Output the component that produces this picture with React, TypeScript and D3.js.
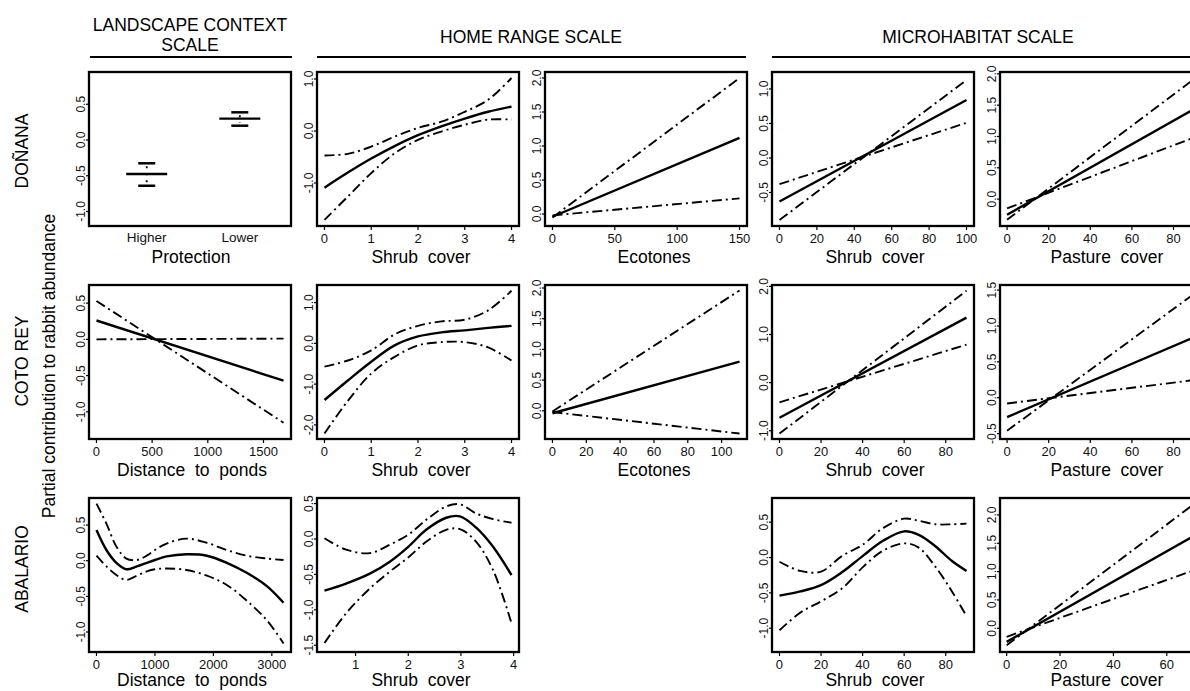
import React from 'react';
import * as d3 from 'd3';

// ---------------- DATA ----------------
// Landscape context scale — Doñana, protection (categorical)
const protectionCats = ['Higher', 'Lower'];
const protectionFit = [-0.476, 0.3];
const protectionUpper = [-0.326, 0.387];
const protectionLower = [-0.64, 0.2];

// Doñana — home range shrub cover
const donHrShrubX = [0, 0.5, 1, 1.5, 2, 2.5, 3, 3.5, 4];
const donHrShrubFit = [-1.09, -0.8, -0.53, -0.29, -0.08, 0.09, 0.24, 0.37, 0.47];
const donHrShrubUp = [-0.47, -0.44, -0.3, -0.11, 0.06, 0.18, 0.37, 0.6, 1.02];
const donHrShrubLo = [-1.71, -1.26, -0.81, -0.43, -0.17, -0.01, 0.12, 0.22, 0.22];

// Doñana — ecotones
const donEcoX = [0, 150];
const donEcoFit = [-0.04, 1.12];
const donEcoUp = [-0.05, 2.0];
const donEcoLo = [-0.02, 0.23];

// Doñana — microhabitat shrub cover
const donMhShrubX = [0, 100];
const donMhShrubFit = [-0.63, 0.84];
const donMhShrubUp = [-0.9, 1.13];
const donMhShrubLo = [-0.38, 0.51];

// Doñana — pasture cover
const donPastX = [0, 90];
const donPastFit = [-0.25, 1.44];
const donPastUp = [-0.33, 1.92];
const donPastLo = [-0.15, 0.985];

// Coto Rey — distance to ponds
const cotoPondX = [0, 1680];
const cotoPondFit = [0.26, -0.57];
const cotoPondUp = [0.53, -1.15];
const cotoPondLo = [0.0, 0.01];

// Coto Rey — home range shrub cover
const cotoHrShrubX = [0, 0.5, 1, 1.5, 2, 2.5, 3, 3.5, 4];
const cotoHrShrubFit = [-1.39, -0.91, -0.45, -0.05, 0.17, 0.27, 0.32, 0.38, 0.43];
const cotoHrShrubUp = [-0.57, -0.42, -0.17, 0.22, 0.43, 0.54, 0.58, 0.81, 1.29];
const cotoHrShrubLo = [-2.21, -1.41, -0.74, -0.33, -0.05, 0.03, 0.03, -0.1, -0.42];

// Coto Rey — ecotones
const cotoEcoX = [0, 110.6];
const cotoEcoFit = [-0.04, 0.8];
const cotoEcoUp = [-0.01, 1.96];
const cotoEcoLo = [-0.02, -0.37];

// Coto Rey — microhabitat shrub cover
const cotoMhShrubX = [0, 90];
const cotoMhShrubFit = [-0.73, 1.35];
const cotoMhShrubUp = [-1.06, 1.91];
const cotoMhShrubLo = [-0.41, 0.79];

// Coto Rey — pasture cover
const cotoPastX = [0, 90];
const cotoPastFit = [-0.27, 0.845];
const cotoPastUp = [-0.46, 1.45];
const cotoPastLo = [-0.08, 0.247];

// Abalario — distance to ponds
const abaPondX = [0, 170, 340, 510, 690, 860, 1000, 1200, 1540, 1890, 2230, 2570, 2920, 3200];
const abaPondFit = [0.43, 0.15, -0.03, -0.12, -0.08, -0.03, 0.01, 0.06, 0.09, 0.07, -0.03, -0.17, -0.36, -0.59];
const abaPondUp = [0.8, 0.52, 0.2, 0.03, 0.01, 0.07, 0.15, 0.24, 0.31, 0.25, 0.15, 0.07, 0.03, 0.01];
const abaPondLo = [0.07, -0.08, -0.2, -0.27, -0.21, -0.15, -0.12, -0.11, -0.13, -0.21, -0.34, -0.56, -0.84, -1.16];

// Abalario — home range shrub cover
const abaHrShrubX = [0.41, 0.82, 1.27, 1.65, 2.0, 2.34, 2.72, 2.98, 3.29, 3.61, 3.96];
const abaHrShrubFit = [-0.73, -0.63, -0.49, -0.32, -0.11, 0.13, 0.3, 0.32, 0.16, -0.11, -0.51];
const abaHrShrubUp = [0.01, -0.15, -0.2, -0.08, 0.06, 0.27, 0.46, 0.49, 0.36, 0.28, 0.23];
const abaHrShrubLo = [-1.47, -1.05, -0.7, -0.46, -0.26, -0.04, 0.13, 0.14, -0.04, -0.44, -1.19];

// Abalario — microhabitat shrub cover
const abaMhShrubX = [0, 10, 20, 30, 40, 50, 60, 67, 75, 83, 90];
const abaMhShrubFit = [-0.54, -0.48, -0.39, -0.21, 0.02, 0.24, 0.37, 0.32, 0.16, -0.05, -0.19];
const abaMhShrubUp = [-0.06, -0.19, -0.2, 0.02, 0.18, 0.42, 0.55, 0.52, 0.47, 0.47, 0.48];
const abaMhShrubLo = [-1.03, -0.78, -0.62, -0.44, -0.14, 0.1, 0.2, 0.14, -0.13, -0.48, -0.83];

// Abalario — pasture cover
const abaPastX = [0, 70];
const abaPastFit = [-0.24, 1.625];
const abaPastUp = [-0.3, 2.185];
const abaPastLo = [-0.15, 1.02];

// Labels
const scaleHeaders = ['LANDSCAPE CONTEXT', 'HOME RANGE SCALE', 'MICROHABITAT SCALE'];
const siteLabels = ['DOÑANA', 'COTO REY', 'ABALARIO'];
const yAxisLabel = 'Partial contribution to rabbit abundance';

// ---------------- LAYOUT ----------------
const COLS = [89, 317, 545, 772, 1000];
const ROWS = [72, 285, 498];
const PW = 202;
const PH = 154;
const TITLE_DX = [2, 3, 8, 2, 6];
const TITLE_DY = [37, 37, 34];
const FONT = '"Liberation Sans", Arial, Helvetica, sans-serif';
const DASHDOT = '10,4,2,4';

type Series = { x: number[]; y: number[]; fit: boolean };
type PanelDef = {
  row: number;
  col: number;
  xDomain: [number, number];
  yDomain: [number, number];
  xTicks: number[];
  yTicks: number[];
  title: string;
  smooth: boolean;
  series: Series[];
};

const tri = (x: number[], f: number[], u: number[], l: number[]): Series[] => [
  { x, y: u, fit: false },
  { x, y: l, fit: false },
  { x, y: f, fit: true },
];

const panels: PanelDef[] = [
  { row: 0, col: 1, xDomain: [-0.16, 4.16], yDomain: [-1.827, 1.135], xTicks: [0, 1, 2, 3, 4], yTicks: [-1, 0, 1], title: 'Shrub  cover', smooth: true, series: tri(donHrShrubX, donHrShrubFit, donHrShrubUp, donHrShrubLo) },
  { row: 0, col: 2, xDomain: [-6, 156], yDomain: [-0.176, 2.088], xTicks: [0, 50, 100, 150], yTicks: [0, 0.5, 1, 1.5, 2], title: 'Ecotones', smooth: false, series: tri(donEcoX, donEcoFit, donEcoUp, donEcoLo) },
  { row: 0, col: 3, xDomain: [-4, 104], yDomain: [-0.986, 1.246], xTicks: [0, 20, 40, 60, 80, 100], yTicks: [-0.5, 0, 0.5, 1], title: 'Shrub  cover', smooth: false, series: tri(donMhShrubX, donMhShrubFit, donMhShrubUp, donMhShrubLo) },
  { row: 0, col: 4, xDomain: [-3.4, 93.7], yDomain: [-0.43, 2.03], xTicks: [0, 20, 40, 60, 80], yTicks: [0, 0.5, 1, 1.5, 2], title: 'Pasture  cover', smooth: false, series: tri(donPastX, donPastFit, donPastUp, donPastLo) },

  { row: 1, col: 0, xDomain: [-67, 1747], yDomain: [-1.375, 0.75], xTicks: [0, 500, 1000, 1500], yTicks: [-1, -0.5, 0, 0.5], title: 'Distance  to  ponds', smooth: false, series: tri(cotoPondX, cotoPondFit, cotoPondUp, cotoPondLo) },
  { row: 1, col: 1, xDomain: [-0.16, 4.16], yDomain: [-2.346, 1.432], xTicks: [0, 1, 2, 3, 4], yTicks: [-2, -1, 0, 1], title: 'Shrub  cover', smooth: true, series: tri(cotoHrShrubX, cotoHrShrubFit, cotoHrShrubUp, cotoHrShrubLo) },
  { row: 1, col: 2, xDomain: [-4.4, 115], yDomain: [-0.459, 2.049], xTicks: [0, 20, 40, 60, 80, 100], yTicks: [0, 0.5, 1, 1.5, 2], title: 'Ecotones', smooth: false, series: tri(cotoEcoX, cotoEcoFit, cotoEcoUp, cotoEcoLo) },
  { row: 1, col: 3, xDomain: [-3.6, 93.6], yDomain: [-1.172, 2.029], xTicks: [0, 20, 40, 60, 80], yTicks: [-1, 0, 1, 2], title: 'Shrub  cover', smooth: false, series: tri(cotoMhShrubX, cotoMhShrubFit, cotoMhShrubUp, cotoMhShrubLo) },
  { row: 1, col: 4, xDomain: [-3.4, 93.7], yDomain: [-0.575, 1.571], xTicks: [0, 20, 40, 60, 80], yTicks: [-0.5, 0, 0.5, 1, 1.5], title: 'Pasture  cover', smooth: false, series: tri(cotoPastX, cotoPastFit, cotoPastUp, cotoPastLo) },

  { row: 2, col: 0, xDomain: [-128, 3328], yDomain: [-1.28, 0.879], xTicks: [0, 1000, 2000, 3000], yTicks: [-1, -0.5, 0, 0.5], title: 'Distance  to  ponds', smooth: true, series: tri(abaPondX, abaPondFit, abaPondUp, abaPondLo) },
  { row: 2, col: 1, xDomain: [0.268, 4.102], yDomain: [-1.596, 0.579], xTicks: [1, 2, 3, 4], yTicks: [-1.5, -1, -0.5, 0, 0.5], title: 'Shrub  cover', smooth: true, series: tri(abaHrShrubX, abaHrShrubFit, abaHrShrubUp, abaHrShrubLo) },
  { row: 2, col: 3, xDomain: [-3.6, 93.6], yDomain: [-1.337, 0.842], xTicks: [0, 20, 40, 60, 80], yTicks: [-1, -0.5, 0, 0.5], title: 'Shrub  cover', smooth: true, series: tri(abaMhShrubX, abaMhShrubFit, abaMhShrubUp, abaMhShrubLo) },
  { row: 2, col: 4, xDomain: [-2.5, 73.2], yDomain: [-0.418, 2.298], xTicks: [0, 20, 40, 60], yTicks: [0, 0.5, 1, 1.5, 2], title: 'Pasture  cover', smooth: false, series: tri(abaPastX, abaPastFit, abaPastUp, abaPastLo) },
];

const fmtY = (v: number) => v.toFixed(1);

function YAxis({ ys, x0, ticks }: { ys: d3.ScaleLinear<number, number>; x0: number; ticks: number[] }) {
  return (
    <g>
      {ticks.map((t) => (
        <g key={t}>
          <line x1={x0 - 3} x2={x0} y1={ys(t)} y2={ys(t)} stroke="#000" strokeWidth={1.2} />
          <text
            transform={`translate(${x0 - 4.5},${ys(t)}) rotate(-90)`}
            textAnchor="middle"
            fontSize={12}
            fill="#111"
          >
            {fmtY(t)}
          </text>
        </g>
      ))}
    </g>
  );
}

function Panel({ p }: { p: PanelDef }) {
  const x0 = COLS[p.col];
  const y0 = ROWS[p.row];
  const xs = d3.scaleLinear().domain(p.xDomain).range([x0, x0 + PW]);
  const ys = d3.scaleLinear().domain(p.yDomain).range([y0 + PH, y0]);
  const line = d3
    .line<[number, number]>()
    .x((d) => xs(d[0]))
    .y((d) => ys(d[1]))
    .curve(p.smooth ? d3.curveCatmullRom.alpha(0.5) : d3.curveLinear);
  const bottom = y0 + PH;
  return (
    <g>
      {p.series.map((s, i) => (
        <path
          key={i}
          d={line(s.x.map((xv, j) => [xv, s.y[j]] as [number, number])) || ''}
          fill="none"
          stroke="#000"
          strokeWidth={s.fit ? 2.4 : 1.9}
          strokeDasharray={s.fit ? undefined : DASHDOT}
        />
      ))}
      <rect x={x0} y={y0} width={PW} height={PH} fill="none" stroke="#000" strokeWidth={2.3} />
      {p.xTicks.map((t) => (
        <g key={t}>
          <line x1={xs(t)} x2={xs(t)} y1={bottom} y2={bottom + 4} stroke="#000" strokeWidth={1.2} />
          <text x={xs(t)} y={bottom + 17} textAnchor="middle" fontSize={13} fill="#111">
            {t}
          </text>
        </g>
      ))}
      <YAxis ys={ys} x0={x0} ticks={p.yTicks} />
      <text
        x={x0 + PW / 2 + TITLE_DX[p.col]}
        y={bottom + TITLE_DY[p.row]}
        textAnchor="middle"
        fontSize={17.5}
        style={{ whiteSpace: 'pre' }}
      >
        {p.title}
      </text>
    </g>
  );
}

function ProtectionPanel() {
  const x0 = COLS[0];
  const y0 = ROWS[0];
  const xs = d3.scaleLinear().domain([0.38, 2.55]).range([x0, x0 + PW]);
  const ys = d3.scaleLinear().domain([-1.203, 0.951]).range([y0 + PH, y0]);
  const bottom = y0 + PH;
  return (
    <g>
      {protectionCats.map((c, i) => {
        const cx = xs(i + 1);
        return (
          <g key={c}>
            <line x1={cx - 20.5} x2={cx + 20.5} y1={ys(protectionFit[i])} y2={ys(protectionFit[i])} stroke="#000" strokeWidth={2.3} />
            <line x1={cx - 8.5} x2={cx + 8.5} y1={ys(protectionUpper[i])} y2={ys(protectionUpper[i])} stroke="#000" strokeWidth={2.5} />
            <line x1={cx - 8.5} x2={cx + 8.5} y1={ys(protectionLower[i])} y2={ys(protectionLower[i])} stroke="#000" strokeWidth={2.5} />
            <line x1={cx} x2={cx} y1={ys(protectionUpper[i]) + 3} y2={ys(protectionLower[i]) - 3} stroke="#000" strokeWidth={1.8} strokeDasharray="2,5" />
            <text x={cx} y={bottom + 16} textAnchor="middle" fontSize={13.5} fill="#111">
              {c}
            </text>
          </g>
        );
      })}
      <rect x={x0} y={y0} width={PW} height={PH} fill="none" stroke="#000" strokeWidth={2.3} />
      <YAxis ys={ys} x0={x0} ticks={[-1, -0.5, 0, 0.5]} />
      <text x={x0 + PW / 2 + 1} y={bottom + 37} textAnchor="middle" fontSize={17.5}>
        Protection
      </text>
    </g>
  );
}

export default function App() {
  return (
    <svg
      width={1190}
      height={691}
      style={{ position: 'absolute', left: 0, top: 0, background: '#fff' }}
      fontFamily={FONT}
    >
      <rect x={0} y={0} width={1190} height={691} fill="#fff" />
      {/* scale headers */}
      <text x={190} y={30.5} textAnchor="middle" fontSize={17.5}>{scaleHeaders[0]}</text>
      <text x={190} y={50.5} textAnchor="middle" fontSize={17.5}>SCALE</text>
      <line x1={90} x2={292} y1={57} y2={57} stroke="#000" strokeWidth={2} />
      <text x={531} y={43.3} textAnchor="middle" fontSize={17.5}>{scaleHeaders[1]}</text>
      <line x1={317} x2={746} y1={57} y2={57} stroke="#000" strokeWidth={2} />
      <text x={978} y={43.3} textAnchor="middle" fontSize={17.5}>{scaleHeaders[2]}</text>
      <line x1={772} x2={1202} y1={57} y2={57} stroke="#000" strokeWidth={2} />

      {/* site labels */}
      <text transform="translate(27.5,151) rotate(-90)" textAnchor="middle" fontSize={17.5}>{siteLabels[0]}</text>
      <text transform="translate(27.5,361) rotate(-90)" textAnchor="middle" fontSize={17.5}>{siteLabels[1]}</text>
      <text transform="translate(27.5,569) rotate(-90)" textAnchor="middle" fontSize={17.5}>{siteLabels[2]}</text>
      <text transform="translate(55,366) rotate(-90)" textAnchor="middle" fontSize={17.5}>{yAxisLabel}</text>

      <ProtectionPanel />
      {panels.map((p, i) => (
        <Panel key={i} p={p} />
      ))}
    </svg>
  );
}
